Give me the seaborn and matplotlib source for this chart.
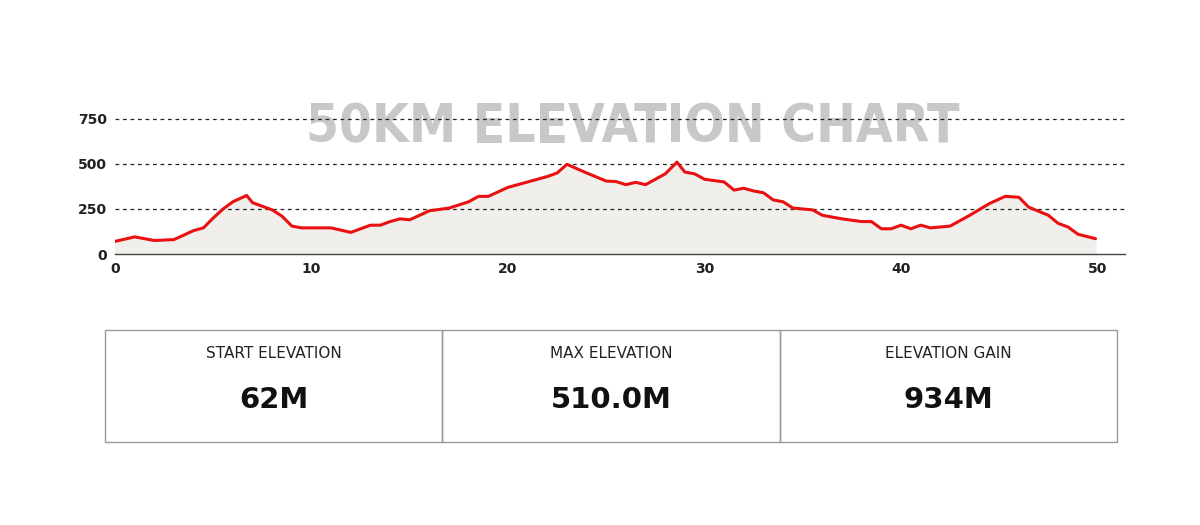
import matplotlib
matplotlib.use("Agg")
import matplotlib.pyplot as plt
import seaborn as sns
import pandas as pd
from matplotlib.patches import Rectangle

km = [0, 1, 2, 3, 4, 4.5, 5, 5.5, 6, 6.7, 7, 8, 8.5, 9, 9.5, 10, 11, 12, 13, 13.5,
      14, 14.5, 15, 16, 17, 18, 18.5, 19, 20, 21, 22, 22.5, 23, 24, 25, 25.5, 26,
      26.5, 27, 28, 28.6, 29, 29.5, 30, 31, 31.5, 32, 32.5, 33, 33.5, 34, 34.5,
      35.5, 36, 37, 38, 38.5, 39, 39.5, 40, 40.5, 41, 41.5, 42, 42.5, 43.5, 44.5,
      45.3, 46, 46.5, 47.5, 48, 48.5, 49, 49.9]
elev = [70, 95, 75, 80, 130, 145, 200, 250, 290, 325, 285, 245, 210, 155, 145,
        145, 145, 120, 160, 160, 180, 195, 190, 240, 255, 290, 320, 320, 370, 400,
        430, 450, 498, 450, 405, 402, 385, 398, 385, 445, 510, 455, 445, 415, 400,
        355, 365, 350, 340, 300, 290, 255, 245, 215, 195, 180, 180, 140, 140, 160,
        140, 160, 145, 150, 155, 215, 280, 320, 315, 260, 215, 170, 150, 110, 85]
stat_labels = ["START ELEVATION", "MAX ELEVATION", "ELEVATION GAIN"]
stat_values = ["62M", "510.0M", "934M"]

df = pd.DataFrame({"km": km, "elev": elev})

sns.set_style("white")
plt.rcParams["font.family"] = ["DejaVu Sans"]

fig = plt.figure(figsize=(12, 5.25), dpi=100)
ax = fig.add_axes([115 / 1200, 1 - 254 / 525, 1010 / 1200, 154 / 525])

ax.fill_between(df["km"], df["elev"], color="#f0efeb", zorder=1)
sns.lineplot(data=df, x="km", y="elev", ax=ax, color="#e81010", linewidth=2.2, zorder=3)

ax.set_xlim(0, 51.4)
ax.set_ylim(0, 855)
ax.set_xticks([0, 10, 20, 30, 40, 50])
ax.set_yticks([0, 250, 500, 750])
for y in [250, 500, 750]:
    ax.axhline(y, color="#222222", linestyle=(0, (3, 3)), linewidth=0.9, zorder=2)
ax.tick_params(length=0, labelsize=10, pad=6)
for lbl in ax.get_xticklabels() + ax.get_yticklabels():
    lbl.set_fontweight("bold")
    lbl.set_color("#222222")
ax.set_xlabel("")
ax.set_ylabel("")
for s in ["top", "right", "left"]:
    ax.spines[s].set_visible(False)
ax.spines["bottom"].set_color("#444444")
ax.spines["bottom"].set_linewidth(1)

t = fig.text(633 / 1200, 1 - 127 / 525, "50KM ELEVATION CHART", ha="center", va="center",
             fontsize=46, fontweight="bold", color="#c8c8c8", zorder=0,
             fontstretch="condensed", family=["DejaVu Sans"])
# shrink the title to the reference width
fig.canvas.draw()
bb = t.get_window_extent()
scale = 653 / bb.width
if scale < 1:
    t.set_fontsize(46 * scale)
ax.set_zorder(1)
ax.patch.set_alpha(0)

# stat boxes
x0, x1 = 105, 1117
y0, y1 = 330, 442
w = (x1 - x0) / 3
for i, (lab, val) in enumerate(zip(stat_labels, stat_values)):
    left = x0 + i * w
    fig.patches.append(Rectangle((left / 1200, 1 - y1 / 525), w / 1200, (y1 - y0) / 525,
                                 transform=fig.transFigure, fill=False,
                                 edgecolor="#999999", linewidth=1))
    cx = (left + w / 2) / 1200
    fig.text(cx, 1 - 353 / 525, lab, ha="center", va="center",
             fontsize=11, color="#222222")
    fig.text(cx, 1 - 400 / 525, val, ha="center", va="center",
             fontsize=21, fontweight="heavy", color="#111111")

fig.savefig("out.png", dpi=100)
